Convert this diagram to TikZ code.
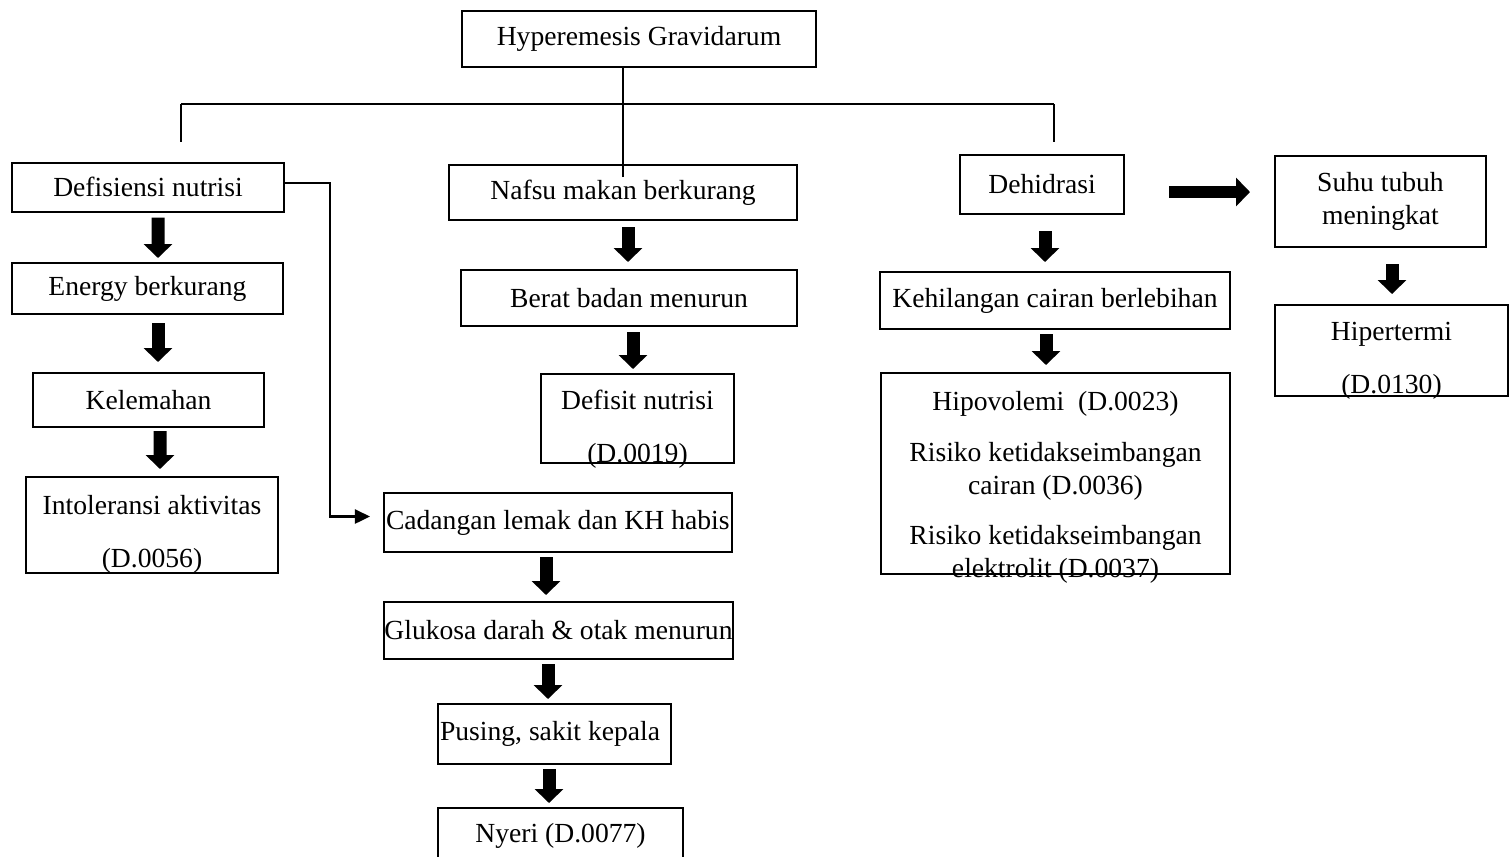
\documentclass[tikz,border=0pt]{standalone}
\usepackage{fontspec}
\setmainfont{Liberation Serif}
\usetikzlibrary{arrows.meta}
\newcommand{\px}{0.01528cm}
\begin{document}
\begin{tikzpicture}[
    x=\px, y=-\px,
    every node/.style={font=\fontsize{12pt}{14.4pt}\selectfont},
    box/.style={draw, line width=2*\px, inner sep=0pt, align=flush center},
    leftbox/.style={box, align=flush left, inner xsep=2*\px},
    lbl/.style={inner sep=0pt, align=flush center},
    bus/.style={line width=2.5*\px},
    leg/.style={line width=1.5*\px},
    link/.style={line width=2.5*\px, -{Triangle[width=0.214cm, length=0.23cm]}},
    fat/.style={line width=13*\px, -{Triangle[width=0.428cm, length=0.214cm]}},
]
\useasboundingbox (0,0) rectangle (1509,856);
\node[box, minimum width=354*\px, minimum height=56*\px] (hg) at (639,39) {Hyperemesis Gravidarum};
\node[box, minimum width=272*\px, minimum height=49*\px] (defnut) at (148,187) {Defisiensi nutrisi};
\node[box, minimum width=348*\px, minimum height=55*\px] (nafsu) at (623,192.5) {Nafsu makan berkurang};
\node[box, minimum width=164*\px, minimum height=59*\px] (dehid) at (1042,184.5) {Dehidrasi};
\node[box, minimum width=211*\px, minimum height=91*\px] (suhu) at (1380.5,201.5) {Suhu tubuh\\meningkat};
\node[box, minimum width=271*\px, minimum height=51*\px] (energy) at (147.5,288.5) {Energy berkurang};
\node[box, minimum width=231*\px, minimum height=54*\px] (lemah) at (148.5,400) {Kelemahan};
\node[box, minimum width=252*\px, minimum height=96*\px] (intol) at (152,525) {};
\node[lbl] (intoltxt) at ([yshift=-9.5*\px]intol.center) {Intoleransi aktivitas\\[8.5pt](D.0056)};
\node[box, minimum width=336*\px, minimum height=56*\px] (berat) at (629,298) {Berat badan menurun};
\node[box, minimum width=193*\px, minimum height=89*\px] (defisit) at (637.5,418.5) {};
\node[lbl] (defisittxt) at ([yshift=-11*\px]defisit.center) {Defisit nutrisi\\[8.5pt](D.0019)};
\node[leftbox, minimum width=348*\px, minimum height=59*\px, text width=344*\px] (cadang) at (558,522.5) {\mbox{Cadangan lemak dan KH habis}};
\node[box, minimum width=349*\px, minimum height=57*\px] (gluk) at (558.5,630.5) {Glukosa darah \& otak menurun};
\node[leftbox, minimum width=233*\px, minimum height=60*\px, text width=229*\px] (pusing) at (554.5,734) {Pusing, sakit kepala};
\node[box, minimum width=245*\px, minimum height=56*\px] (nyeri) at (560.5,836) {Nyeri (D.0077)};
\node[box, minimum width=350*\px, minimum height=57*\px] (hilang) at (1055,300.5) {Kehilangan cairan berlebihan};
\node[box, minimum width=349*\px, minimum height=201*\px] (hipo) at (1055.5,473.5) {};
\node[lbl] (hipotxt) at ([yshift=-14*\px]hipo.center) {Hipovolemi\ \ (D.0023)\\[7.5pt]Risiko ketidakseimbangan\\cairan (D.0036)\\[7.5pt]Risiko ketidakseimbangan\\elektrolit (D.0037)};
\node[box, minimum width=233*\px, minimum height=91*\px] (hiper) at (1391.5,350.5) {};
\node[lbl] (hipertxt) at ([yshift=-10*\px]hiper.center) {Hipertermi\\[8.5pt](D.0130)};

\coordinate (busl) at (181,104);
\coordinate (busr) at (1054,104);
\coordinate (legl) at (181,142);
\coordinate (legr) at (1054,142);
\draw[bus] (busl) -- (busr);
\draw[leg] (busl) -- (legl);
\draw[leg] (busr) -- (legr);
\draw[leg] ([yshift=-13*\px]nafsu.north) -- (nafsu.north |- hg.south);

\draw[link, shorten >=13*\px] ([yshift=4*\px]defnut.east) -- ++(45,0) |- ([yshift=6*\px]cadang.west);

\draw[fat, shorten <=5*\px, shorten >=4*\px] ([xshift=10*\px]defnut.south) -- ([xshift=10.5*\px]energy.north);
\draw[fat, shorten <=8*\px, shorten >=10*\px] ([xshift=10.5*\px]energy.south) -- ([xshift=9.5*\px]lemah.north);
\draw[fat, shorten <=3*\px, shorten >=7*\px] ([xshift=11.5*\px]lemah.south) -- ([xshift=8*\px]intol.north);
\draw[fat, shorten <=6*\px, shorten >=7*\px] ([xshift=5*\px]nafsu.south) -- ([xshift=-1*\px]berat.north);
\draw[fat, shorten <=5*\px, shorten >=4*\px] ([xshift=4*\px]berat.south) -- ([xshift=-4.5*\px]defisit.north);
\draw[fat, shorten <=4*\px, shorten >=6*\px] ([xshift=-12*\px]cadang.south) -- ([xshift=-12.5*\px]gluk.north);
\draw[fat, shorten <=4*\px, shorten >=4*\px] ([xshift=-10.5*\px]gluk.south) -- ([xshift=-6.5*\px]pusing.north);
\draw[fat, shorten <=4*\px, shorten >=4*\px] ([xshift=-5.5*\px]pusing.south) -- ([xshift=-11.5*\px]nyeri.north);
\draw[fat, shorten <=16*\px, shorten >=9*\px] ([xshift=3*\px]dehid.south) -- ([xshift=-10*\px]hilang.north);
\draw[fat, shorten <=4*\px, shorten >=7*\px] ([xshift=-9*\px]hilang.south) -- ([xshift=-9.5*\px]hipo.north);
\draw[fat, shorten <=16*\px, shorten >=10*\px] ([xshift=11.5*\px]suhu.south) -- ([xshift=0.5*\px]hiper.north);
\draw[fat, line width=12*\px, shorten <=44*\px, shorten >=24*\px] ([yshift=-7.5*\px]dehid.east) -- ([yshift=-7.5*\px]dehid.east -| suhu.west);
\end{tikzpicture}
\end{document}
